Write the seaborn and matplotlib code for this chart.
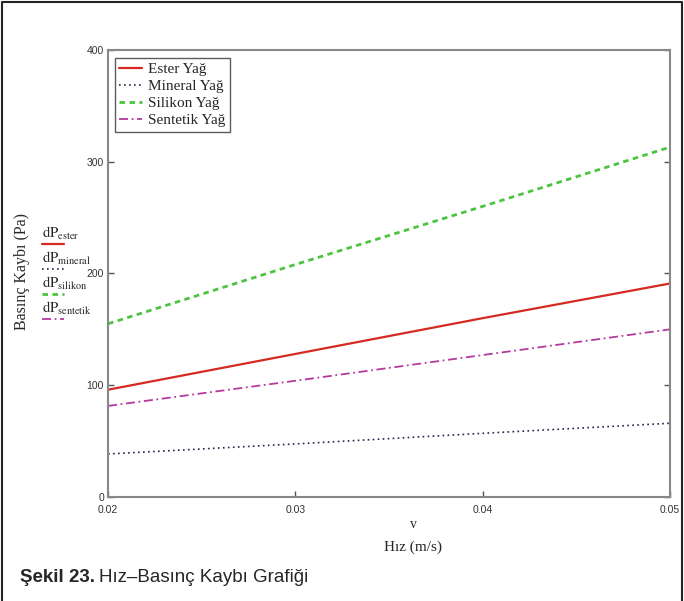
"""
Hız - Basınç Kaybı grafiği (Şekil 23)
"""

import pandas as pd
import matplotlib
matplotlib.use('Agg')
import matplotlib.pyplot as plt
from matplotlib.lines import Line2D
import seaborn as sns

# Veriler
hiz = [0.02, 0.03, 0.04, 0.05]
ester = [96, 128, 160, 191]
mineral = [38.5, 47.5, 57, 66]
silikon = [155, 208, 260, 313]
sentetik = [81.5, 104, 127, 150]

seri_adlari = ['Ester Yağ', 'Mineral Yağ', 'Silikon Yağ', 'Sentetik Yağ']
alt_adlar = ['ester', 'mineral', 'silikon', 'sentetik']
x_ticks = [0.02, 0.03, 0.04, 0.05]
y_ticks = [0, 100, 200, 300, 400]

sns.set_theme(style="white")
plt.rcParams['font.family'] = ['Liberation Serif', 'DejaVu Serif']
plt.rcParams['mathtext.fontset'] = 'stix'

renkler = ['#d42a22', '#27264a', '#4cc440', '#b43a9e']
stiller = ['-', (0, (1, 2)), (0, (2, 1.6)), (0, (5, 2, 1, 2))]
kalinlik = [1.6, 1.2, 2.0, 1.3]

df = pd.DataFrame({'v': hiz * 4,
                   'dP': ester + mineral + silikon + sentetik,
                   'yag': [s for s in seri_adlari for _ in hiz]})

fig = plt.figure(figsize=(6.84, 6.01), dpi=100)
ax = fig.add_axes([0.158, 0.173, 0.8215, 0.744])

for ad, renk, stil, lw in zip(seri_adlari, renkler, stiller, kalinlik):
    sns.lineplot(data=df[df['yag'] == ad], x='v', y='dP', ax=ax,
                 color=renk, linestyle=stil, linewidth=lw, label=ad)

ax.set_xlim(0.02, 0.05)
ax.set_ylim(0, 400)
ax.set_xticks(x_ticks)
ax.set_yticks(y_ticks)
ax.set_xticklabels([f'{t:.2f}' for t in x_ticks], family='Liberation Sans',
                   fontsize=7.5, color='#333333')
ax.set_yticklabels([str(t) for t in y_ticks], family='Liberation Sans',
                   fontsize=7.5, color='#333333')
ax.tick_params(axis='both', direction='in', length=4, width=1,
               color='#555555')
ax.tick_params(axis='x', bottom=True, pad=6)
ax.tick_params(axis='y', right=True, left=True, pad=3)
for sp in ax.spines.values():
    sp.set_color('#888888')
    sp.set_linewidth(1.5)
ax.set_xlabel('')
ax.set_ylabel('')

leg = ax.legend(loc='upper left', bbox_to_anchor=(0.012, 0.982),
                fontsize=11, frameon=True, fancybox=False,
                handlelength=1.5, handletextpad=0.4, borderpad=0.3,
                labelspacing=0.22, borderaxespad=0)
leg.get_frame().set_edgecolor('#333333')
leg.get_frame().set_linewidth(1.0)

# eksen yazıları
fig.text(0.604, 1 - 524 / 601, 'v', ha='center', va='center', fontsize=10)
fig.text(0.604, 1 - 547 / 601, 'Hız (m/s)', ha='center', va='center',
         fontsize=11)
fig.text(22 / 684, 1 - 272 / 601, 'Basınç Kaybı (Pa)', ha='center',
         va='center', rotation=90, fontsize=11.5)

# Mathcad tarzı yan etiketler
ys = [233, 258, 283, 308]
for ad, renk, stil, lw, y in zip(alt_adlar, renkler, stiller, kalinlik, ys):
    fig.text(42 / 684, 1 - y / 601, r'$\mathrm{dP}_{\mathrm{' + ad + '}}$',
             ha='left', va='center', fontsize=10.5)
    yl = 1 - (y + 11) / 601
    fig.add_artist(Line2D([42 / 684, 64 / 684], [yl, yl], color=renk,
                          linestyle=stil, linewidth=lw))

# çerçeve
fig.add_artist(Line2D([2 / 684, 2 / 684, 682 / 684, 682 / 684],
                      [0, 1 - 1.5 / 601, 1 - 1.5 / 601, 0],
                      color='#222222', linewidth=1.5))

# başlık
t1 = fig.text(20 / 684, 1 - 578 / 601, 'Şekil 23.', ha='left', va='center',
              fontsize=13.5, fontweight='bold', family='Liberation Sans')
fig.canvas.draw()
bb = t1.get_window_extent(renderer=fig.canvas.get_renderer())
fig.text((bb.x1 + 4) / 684, 1 - 578 / 601, 'Hız–Basınç Kaybı Grafiği',
         ha='left', va='center', fontsize=13.5, family='Liberation Sans')

fig.savefig('out.png', dpi=100)
plt.close(fig)
